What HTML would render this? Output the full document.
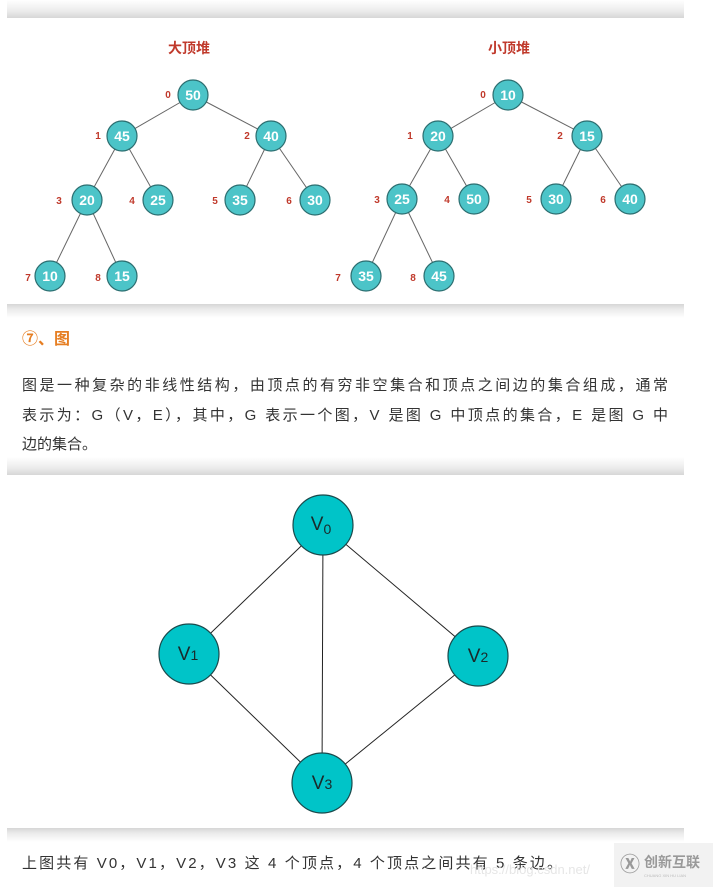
<!DOCTYPE html>
<html><head><meta charset="utf-8"><style>
html,body{margin:0;padding:0;background:#fff;width:713px;height:887px;overflow:hidden;}
svg{display:block}
</style></head><body>
<svg width="713" height="887" viewBox="0 0 713 887" xmlns="http://www.w3.org/2000/svg">
<defs>
<linearGradient id="sd" x1="0" y1="0" x2="0" y2="1"><stop offset="0" stop-color="#fff"/><stop offset="0.6" stop-color="#ececec"/><stop offset="1" stop-color="#d6d6d6"/></linearGradient>
<linearGradient id="su" x1="0" y1="0" x2="0" y2="1"><stop offset="0" stop-color="#d6d6d6"/><stop offset="0.4" stop-color="#ececec"/><stop offset="1" stop-color="#fff"/></linearGradient>
</defs>
<rect x="7" y="0" width="677" height="18" fill="url(#sd)"/>
<rect x="7" y="304" width="677" height="14" fill="url(#su)"/>
<rect x="7" y="457" width="677" height="18" fill="url(#sd)"/>
<rect x="7" y="828" width="677" height="14" fill="url(#su)"/>
<rect x="614" y="843" width="99" height="44" fill="#f2f2f2"/>

<g font-family="Liberation Sans, Noto Sans CJK SC, sans-serif">
<text x="189" y="53" fill="#c0392b" font-size="14" text-anchor="middle" font-weight="bold">大顶堆</text>
<text x="509" y="53" fill="#c0392b" font-size="14" text-anchor="middle" font-weight="bold">小顶堆</text>
<g stroke="#666" stroke-width="1">
<line x1="193" y1="95" x2="122" y2="136"/><line x1="193" y1="95" x2="271" y2="136"/>
<line x1="122" y1="136" x2="87" y2="200"/><line x1="122" y1="136" x2="158" y2="200"/>
<line x1="271" y1="136" x2="240" y2="200"/><line x1="271" y1="136" x2="315" y2="200"/>
<line x1="87" y1="200" x2="50" y2="276"/><line x1="87" y1="200" x2="122" y2="276"/>
<line x1="508" y1="95" x2="438" y2="136"/><line x1="508" y1="95" x2="587" y2="136"/>
<line x1="438" y1="136" x2="402" y2="199"/><line x1="438" y1="136" x2="474" y2="199"/>
<line x1="587" y1="136" x2="556" y2="199"/><line x1="587" y1="136" x2="630" y2="199"/>
<line x1="402" y1="199" x2="366" y2="276"/><line x1="402" y1="199" x2="439" y2="276"/>
</g>
<g fill="#4cc4c8" stroke="#2c6e70" stroke-width="1.2">
<circle cx="193" cy="95" r="15"/><circle cx="122" cy="136" r="15"/><circle cx="271" cy="136" r="15"/>
<circle cx="87" cy="200" r="15"/><circle cx="158" cy="200" r="15"/><circle cx="240" cy="200" r="15"/><circle cx="315" cy="200" r="15"/>
<circle cx="50" cy="276" r="15"/><circle cx="122" cy="276" r="15"/>
<circle cx="508" cy="95" r="15"/><circle cx="438" cy="136" r="15"/><circle cx="587" cy="136" r="15"/>
<circle cx="402" cy="199" r="15"/><circle cx="474" cy="199" r="15"/><circle cx="556" cy="199" r="15"/><circle cx="630" cy="199" r="15"/>
<circle cx="366" cy="276" r="15"/><circle cx="439" cy="276" r="15"/>
</g>
<g fill="#fff" font-size="14" font-weight="bold" text-anchor="middle">
<text x="193" y="100">50</text><text x="122" y="141">45</text><text x="271" y="141">40</text>
<text x="87" y="205">20</text><text x="158" y="205">25</text><text x="240" y="205">35</text><text x="315" y="205">30</text>
<text x="50" y="281">10</text><text x="122" y="281">15</text>
<text x="508" y="100">10</text><text x="438" y="141">20</text><text x="587" y="141">15</text>
<text x="402" y="204">25</text><text x="474" y="204">50</text><text x="556" y="204">30</text><text x="630" y="204">40</text>
<text x="366" y="281">35</text><text x="439" y="281">45</text>
</g>
<g fill="#c0392b" font-size="10" font-weight="bold" text-anchor="middle">
<text x="168" y="98">0</text><text x="98" y="139">1</text><text x="247" y="139">2</text>
<text x="59" y="204">3</text><text x="132" y="204">4</text><text x="215" y="204">5</text><text x="289" y="204">6</text>
<text x="28" y="281">7</text><text x="98" y="281">8</text>
<text x="483" y="98">0</text><text x="410" y="139">1</text><text x="560" y="139">2</text>
<text x="377" y="203">3</text><text x="447" y="203">4</text><text x="529" y="203">5</text><text x="603" y="203">6</text>
<text x="338" y="281">7</text><text x="413" y="281">8</text>
</g>
</g>

<g font-family="Liberation Sans, Noto Sans CJK SC, sans-serif">
<text x="22" y="344" fill="#e67e22" font-size="16" font-weight="bold">⑦、图</text>
<g fill="#333" font-size="15">
<text x="22" y="390" textLength="646" lengthAdjust="spacing">图是一种复杂的非线性结构，由顶点的有穷非空集合和顶点之间边的集合组成，通常</text>
<text x="22" y="420" textLength="646" lengthAdjust="spacing">表示为：G（V，E），其中，G 表示一个图，V 是图 G 中顶点的集合，E 是图 G 中</text>
<text x="22" y="449">边的集合。</text>
<text x="22" y="868" textLength="540" lengthAdjust="spacing">上图共有 V0，V1，V2，V3 这 4 个顶点，4 个顶点之间共有 5 条边。</text>
</g>
<text x="470" y="874" fill="#e6e6e6" font-size="13">https://blog.csdn.net/</text>
<text x="620" y="871" fill="#999" font-size="20" font-weight="bold">Ⓧ</text>
<text x="644" y="867" fill="#999" font-size="14" font-weight="bold">创新互联</text>
<text x="644" y="877" fill="#bbb" font-size="4">CHUANG XIN HU LIAN</text>
</g>

<g stroke="#222" stroke-width="1">
<line x1="323" y1="525" x2="189" y2="654"/><line x1="323" y1="525" x2="478" y2="656"/>
<line x1="323" y1="525" x2="322" y2="783"/><line x1="189" y1="654" x2="322" y2="783"/>
<line x1="478" y1="656" x2="322" y2="783"/>
</g>
<g fill="#00c4c8" stroke="#1a4a4c" stroke-width="1.2">
<circle cx="323" cy="525" r="30"/><circle cx="189" cy="654" r="30"/><circle cx="478" cy="656" r="30"/><circle cx="322" cy="783" r="30"/>
</g>
<g font-family="Liberation Sans, sans-serif" fill="#1a2a2a" font-size="19" text-anchor="middle">
<text x="321" y="530">V<tspan font-size="14" dy="4">0</tspan></text>
<text x="188" y="660">V<tspan font-size="14">1</tspan></text>
<text x="478" y="662">V<tspan font-size="14">2</tspan></text>
<text x="322" y="789">V<tspan font-size="14">3</tspan></text>
</g>
</svg>
</body></html>
